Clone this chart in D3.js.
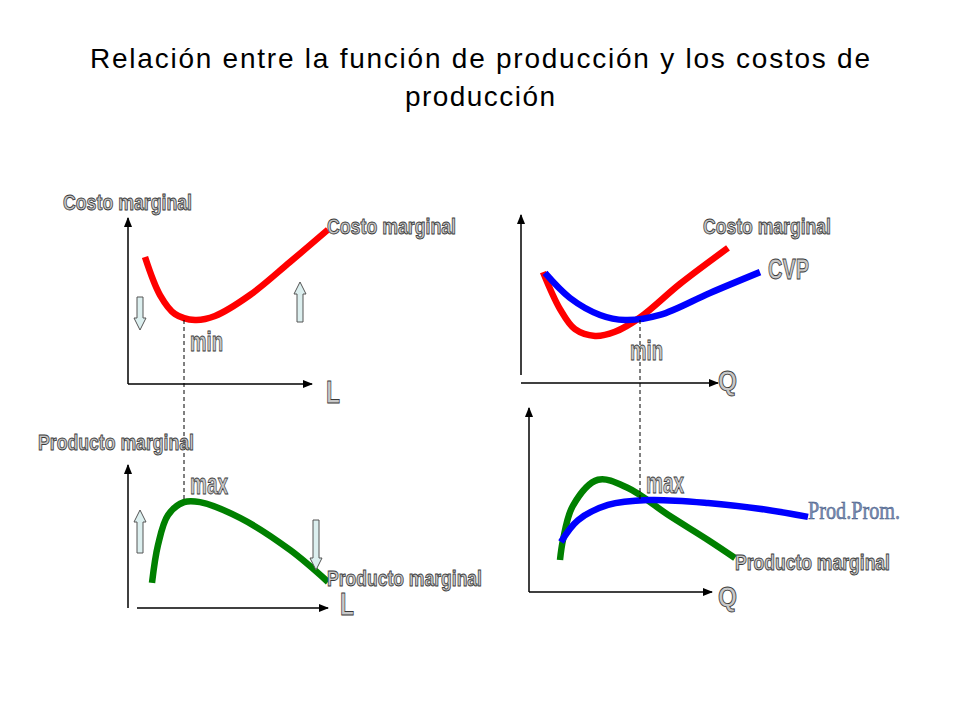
<!DOCTYPE html>
<html><head><meta charset="utf-8">
<script src="https://cdn.jsdelivr.net/npm/d3@7"></script>
<style>body{margin:0;background:#fff}</style></head>
<body><svg id="c" width="960" height="720"></svg>
<script>
const titleLines = ["Relación entre la función de producción y los costos de", "producción"];
// curves in panel units (x 0..~14, y 0..10)
const cmgL = [[0.85,7.65],[1.6,5.36],[2.35,4.22],[3.35,3.86],[4.35,4.1],[6.1,5.36],[8.1,7.35],[10,9.3]];
const pmgL = [[1.2,1.75],[1.5,4.4],[2.0,6.5],[2.8,7.4],[3.6,7.4],[5.6,6.3],[8.1,4.06],[10,1.82]];
const cmgQ = [[1.1,6.6],[1.95,4.4],[2.7,3.2],[3.7,2.8],[4.7,3.05],[5.95,3.9],[7.95,5.9],[10.35,8.04]];
const cvpQ = [[1.2,6.55],[2.45,5.06],[3.95,4.05],[5.2,3.75],[6.95,4.05],[9.45,5.36],[11.95,6.6]];
const pmgQ = [[1.55,1.74],[1.7,2.83],[2.2,4.7],[3.45,6.1],[4.95,5.65],[6.95,4.2],[8.95,2.83],[10.3,1.85]];
const ppQ  = [[1.6,2.72],[2.45,3.9],[3.95,4.73],[5.95,5.0],[8.95,4.84],[11.95,4.46],[13.95,4.08]];

const svg = d3.select("#c");
const defs = svg.append("defs");
defs.append("marker").attr("id","ah").attr("viewBox","0 0 10 10").attr("refX",9).attr("refY",5)
  .attr("markerWidth",7).attr("markerHeight",7).attr("orient","auto")
  .append("path").attr("d","M0,1L10,5L0,9z").attr("fill","#000");

svg.selectAll("text.t").data(titleLines).join("text").attr("x",480).attr("y",(d,i)=>68+i*38)
  .attr("text-anchor","middle").attr("font-family","Liberation Sans, Arial").attr("font-size",28)
  .attr("textLength",(d,i)=>i===0?780:150).attr("lengthAdjust","spacing").text(d=>d);

const panels = [
 {x0:128,x1:328,y0:384,y1:218, yAx:[128,218,384], xAx:[128,312,384], curves:[[cmgL,"#ff0000"]]},
 {x0:128,x1:328,y0:608,y1:465, yAx:[128,465,608], xAx:[137,328,608], curves:[[pmgL,"#008000"]]},
 {x0:521,x1:721,y0:383,y1:215, yAx:[521,215,375], xAx:[521,718,383], curves:[[cmgQ,"#ff0000"],[cvpQ,"#0000ff"]]},
 {x0:529,x1:729,y0:592,y1:408, yAx:[529,408,592], xAx:[529,712,592], curves:[[pmgQ,"#008000"],[ppQ,"#0000ff"]]}
];
panels.forEach(p=>{
  const xs=d3.scaleLinear().domain([0,10]).range([p.x0,p.x1]);
  const ys=d3.scaleLinear().domain([0,10]).range([p.y0,p.y1]);
  svg.append("line").attr("x1",p.yAx[0]).attr("x2",p.yAx[0]).attr("y1",p.yAx[2]).attr("y2",p.yAx[1])
    .attr("stroke","#000").attr("stroke-width",1.5).attr("marker-end","url(#ah)");
  svg.append("line").attr("x1",p.xAx[0]).attr("x2",p.xAx[1]).attr("y1",p.xAx[2]).attr("y2",p.xAx[2])
    .attr("stroke","#000").attr("stroke-width",1.5).attr("marker-end","url(#ah)");
  const line=d3.line().x(d=>xs(d[0])).y(d=>ys(d[1])).curve(d3.curveCatmullRom.alpha(0.5));
  p.curves.forEach(([data,col])=>svg.append("path").attr("d",line(data)).attr("fill","none")
    .attr("stroke",col).attr("stroke-width",6.5));
});
svg.append("line").attr("x1",184).attr("x2",184).attr("y1",320).attr("y2",502).attr("stroke","#000").attr("stroke-dasharray","4,3");
svg.append("line").attr("x1",640).attr("x2",640).attr("y1",320).attr("y2",500).attr("stroke","#000").attr("stroke-dasharray","4,3");

function arrow(x,yFrom,yTo){
  const dir = yTo<yFrom?-1:1, w=3, hw=6, hl=12;
  const yb = yTo - dir*hl;
  const d=`M${x-w},${yFrom}L${x-w},${yb}L${x-hw},${yb}L${x},${yTo}L${x+hw},${yb}L${x+w},${yb}L${x+w},${yFrom}Z`;
  svg.append("path").attr("d",d).attr("fill","#dcefef").attr("stroke","#555").attr("stroke-width",1);
}
arrow(140,297,330); arrow(300,322,282); arrow(140,553,510); arrow(316,520,570);

// [text, x, y, size, width]
const labels = [
 ["Costo marginal",63,210,22,129],["Costo marginal",327,234,22,129],["min",190,351,28,33],["L",326,403,32,14],
 ["Producto marginal",38,450,22,156],["max",190,494,30,38],["Producto marginal",327,586,22,155],["L",340,615,32,14],
 ["Costo marginal",703,234,22,128],["CVP",768,279,29,41],["min",630,360,28,33],["Q",718,390,28,19],
 ["max",646,493,30,38],["Producto marginal",735,570,22,155],["Q",718,606,28,19]
];
svg.selectAll("text.l").data(labels).join("text").attr("x",d=>d[1]).attr("y",d=>d[2])
  .attr("font-family","Liberation Sans, Arial").attr("font-weight","bold")
  .attr("font-size",d=>d[3]).attr("textLength",d=>d[4]).attr("lengthAdjust","spacingAndGlyphs")
  .attr("fill","#c8c8c8").attr("stroke","#3a3a3a").attr("stroke-width",0.9)
  .text(d=>d[0]);
svg.append("text").attr("x",808).attr("y",519).attr("font-family","Liberation Serif, Times New Roman")
  .attr("font-size",26).attr("textLength",92).attr("lengthAdjust","spacingAndGlyphs")
  .attr("fill","#7a8fb5").attr("stroke","#3c4f7a").attr("stroke-width",0.5).text("Prod.Prom.");
</script></body></html>
